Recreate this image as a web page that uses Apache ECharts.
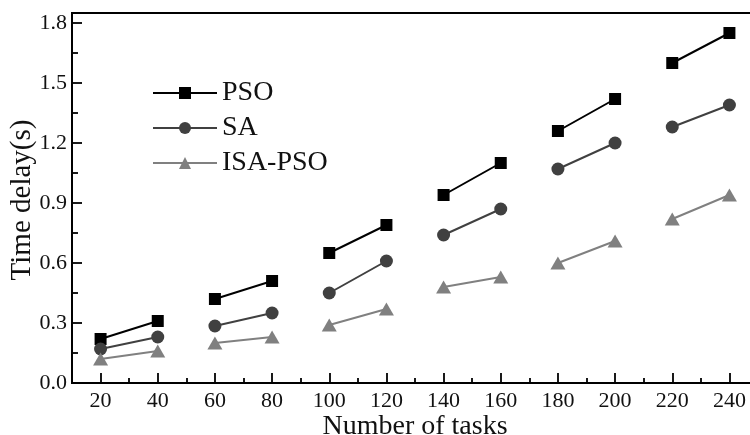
<!DOCTYPE html>
<html>
<head>
<meta charset="utf-8">
<title>Time delay vs number of tasks</title>
<script src="https://cdn.jsdelivr.net/npm/echarts@6/dist/echarts.min.js"></script>
<style>
  html, body { margin: 0; padding: 0; background: #fff; }
  #chart { width: 750px; height: 435px; }
</style>
</head>
<body>
<div id="chart"></div>
<script>
// Number of tasks (x) and measured time delay (s) per algorithm
const taskCounts = [20, 40, 60, 80, 100, 120, 140, 160, 180, 200, 220, 240];
const psoDelay    = [0.22, 0.31, 0.42, 0.51, 0.65, 0.79, 0.94, 1.10, 1.26, 1.42, 1.60, 1.75];
const saDelay     = [0.17, 0.23, 0.285, 0.35, 0.45, 0.61, 0.74, 0.87, 1.07, 1.20, 1.28, 1.39];
const isaPsoDelay = [0.12, 0.16, 0.20, 0.23, 0.29, 0.37, 0.48, 0.53, 0.60, 0.71, 0.82, 0.94];

// Axis tick positions
const xLabelTicks = [20, 40, 60, 80, 100, 120, 140, 160, 180, 200, 220, 240];
const xMinorTicks = [30, 50, 70, 90, 110, 130, 150, 170, 190, 210, 230];
const yLabelTicks = [0, 0.3, 0.6, 0.9, 1.2, 1.5, 1.8];
const yMinorTicks = [0.15, 0.45, 0.75, 1.05, 1.35, 1.65];

// Points are drawn as pairs (20-40, 60-80, ...): a blank entry breaks the line
function pairedSegments(xs, ys) {
  const out = [];
  xs.forEach((x, i) => {
    out.push([x, ys[i]]);
    if (i % 2 === 1 && i < xs.length - 1) out.push([x + 10, '-']);
  });
  return out;
}

const FONT = '"Liberation Serif", "Times New Roman", serif';
const INK = '#111';

const chart = echarts.init(document.getElementById('chart'), null, { renderer: 'canvas' });

chart.setOption({
  animation: false,
  backgroundColor: '#fff',
  grid: {
    left: 72, top: 13, width: 686, height: 370,
    outerBoundsMode: 'none', containLabel: false,
    show: true, borderColor: '#000', borderWidth: 2, backgroundColor: 'transparent'
  },
  legend: {
    orient: 'vertical', left: 152, top: 79, padding: 0,
    itemWidth: 64, itemHeight: 15, itemGap: 7,
    textStyle: { fontFamily: FONT, fontSize: 28, color: INK },
    data: ['PSO', 'SA', 'ISA-PSO']
  },
  xAxis: [
    {
      type: 'value', min: 10, max: 250, position: 'bottom',
      axisLine: { show: true, lineStyle: { color: '#000', width: 2 } },
      axisTick: { show: true, inside: true, length: 10, customValues: xLabelTicks, lineStyle: { color: '#000', width: 1.8 } },
      axisLabel: { show: true, customValues: xLabelTicks, margin: 7, fontFamily: FONT, fontSize: 22, color: INK },
      splitLine: { show: false },
      name: 'Number of tasks', nameLocation: 'middle', nameGap: 30, nameMoveOverlap: false,
      nameTextStyle: { fontFamily: FONT, fontSize: 28, color: INK }
    },
    {
      type: 'value', min: 10, max: 250, position: 'bottom',
      axisLine: { show: false },
      axisTick: { show: true, inside: true, length: 5, customValues: xMinorTicks, lineStyle: { color: '#000', width: 1.8 } },
      axisLabel: { show: false },
      splitLine: { show: false }
    }
  ],
  yAxis: [
    {
      type: 'value', min: 0, max: 1.85, position: 'left',
      axisLine: { show: true, lineStyle: { color: '#000', width: 2 } },
      axisTick: { show: true, inside: true, length: 10, customValues: yLabelTicks, lineStyle: { color: '#000', width: 1.8 } },
      axisLabel: {
        show: true, customValues: yLabelTicks, margin: 5,
        formatter: v => v.toFixed(1),
        fontFamily: FONT, fontSize: 22, color: INK
      },
      splitLine: { show: false }
    },
    {
      type: 'value', min: 0, max: 1.85, position: 'left',
      axisLine: { show: false },
      axisTick: { show: true, inside: true, length: 6, customValues: yMinorTicks, lineStyle: { color: '#000', width: 1.8 } },
      axisLabel: { show: false },
      splitLine: { show: false }
    }
  ],
  graphic: [{
    type: 'text',
    x: 22, y: 200, rotation: Math.PI / 2,
    style: {
      text: 'Time delay(s)', fontFamily: FONT, fontSize: 29, fill: INK,
      align: 'center', verticalAlign: 'middle'
    }
  }],
  series: [
    {
      name: 'PSO', type: 'line', xAxisIndex: 0, yAxisIndex: 0,
      data: pairedSegments(taskCounts, psoDelay), connectNulls: false,
      symbol: 'rect', symbolSize: 12,
      lineStyle: { color: '#000', width: 2 },
      itemStyle: { color: '#000' }
    },
    {
      name: 'SA', type: 'line', xAxisIndex: 0, yAxisIndex: 0,
      data: pairedSegments(taskCounts, saDelay), connectNulls: false,
      symbol: 'circle', symbolSize: 13,
      lineStyle: { color: '#404040', width: 2 },
      itemStyle: { color: '#404040' }
    },
    {
      name: 'ISA-PSO', type: 'line', xAxisIndex: 0, yAxisIndex: 0,
      data: pairedSegments(taskCounts, isaPsoDelay), connectNulls: false,
      symbol: 'triangle', symbolSize: [15, 13],
      lineStyle: { color: '#808080', width: 2 },
      itemStyle: { color: '#808080' }
    }
  ]
});
</script>
</body>
</html>
